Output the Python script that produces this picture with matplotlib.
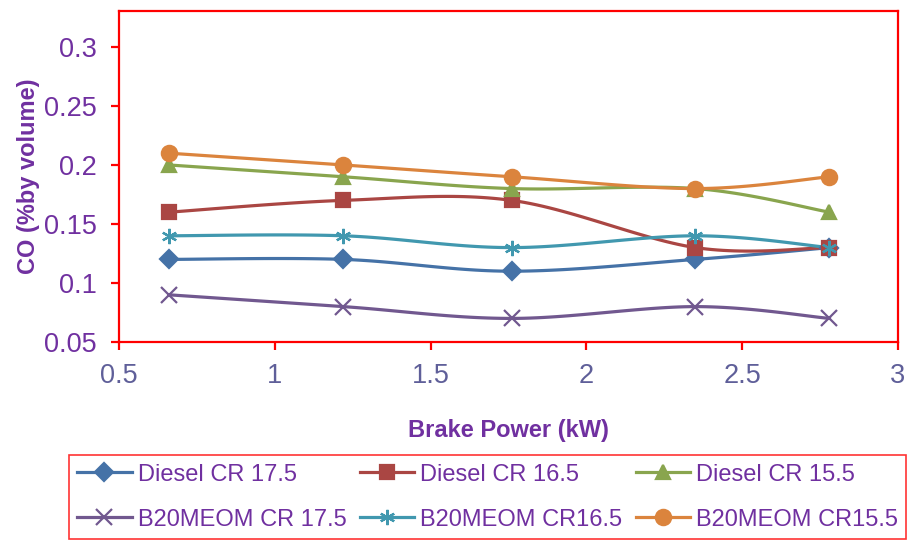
import numpy as np
import matplotlib
matplotlib.use("Agg")
import matplotlib.pyplot as plt

plt.rcParams['font.family'] = ['Liberation Sans', 'DejaVu Sans']

# brake power (kW)
bp = [0.66, 1.22, 1.76, 2.35, 2.78]

diesel_175 = [0.12, 0.12, 0.11, 0.12, 0.13]
diesel_165 = [0.16, 0.17, 0.17, 0.13, 0.13]
diesel_155 = [0.20, 0.19, 0.18, 0.18, 0.16]
b20_175 = [0.09, 0.08, 0.07, 0.08, 0.07]
b20_165 = [0.14, 0.14, 0.13, 0.14, 0.13]
b20_155 = [0.21, 0.20, 0.19, 0.18, 0.19]

labels = ["Diesel CR 17.5", "Diesel CR 16.5", "Diesel CR 15.5",
          "B20MEOM CR 17.5", "B20MEOM CR16.5", "B20MEOM CR15.5"]
series = [diesel_175, diesel_165, diesel_155, b20_175, b20_165, b20_155]
colors = ["#4572A7", "#AA4643", "#89A54E", "#71588F", "#4198AF", "#DB843D"]
markers = ["D", "s", "^", "x", (6, 2, 0), "o"]
msizes = [9, 10, 10, 11, 11, 11]

purple = "#7030A0"


def smooth(x, y, n=30):
    # excel style smoothed line (bezier, catmull-rom control points)
    x = np.asarray(x, float)
    y = np.asarray(y, float)
    px = np.concatenate([[x[0]], x, [x[-1]]])
    py = np.concatenate([[y[0]], y, [y[-1]]])
    t = np.linspace(0, 1, n)
    xs, ys = [], []
    for i in range(1, len(px) - 2):
        p0 = np.array([px[i], py[i]])
        p3 = np.array([px[i + 1], py[i + 1]])
        c1 = p0 + (np.array([px[i + 1], py[i + 1]]) - np.array([px[i - 1], py[i - 1]])) / 6
        c2 = p3 - (np.array([px[i + 2], py[i + 2]]) - np.array([px[i], py[i]])) / 6
        b = ((1 - t) ** 3)[:, None] * p0 + (3 * (1 - t) ** 2 * t)[:, None] * c1 \
            + (3 * (1 - t) * t ** 2)[:, None] * c2 + (t ** 3)[:, None] * p3
        xs.extend(b[:, 0])
        ys.extend(b[:, 1])
    return xs, ys


fig = plt.figure(figsize=(9.09, 5.41), dpi=100)
ax = fig.add_axes([0.1309, 0.3678, 0.857, 0.612])

handles = []
for y, lab, c, m, ms in zip(series, labels, colors, markers, msizes):
    sx, sy = smooth(bp, y)
    ax.plot(sx, sy, color=c, lw=2.3, zorder=2)
    ax.plot(bp, y, linestyle="none", marker=m, color=c, ms=ms, mew=1.6, zorder=3)
    h, = ax.plot([], [], color=c, lw=2.3, marker=m, ms=ms, mew=1.6, label=lab)
    handles.append(h)

ax.set_xlim(0.5, 3)
ax.set_ylim(0.05, 0.3305)
ax.set_xticks([0.5, 1, 1.5, 2, 2.5, 3])
ax.set_xticklabels(["0.5", "1", "1.5", "2", "2.5", "3"])
ax.set_yticks([0.05, 0.1, 0.15, 0.2, 0.25, 0.3])
ax.set_yticklabels(["0.05", "0.1", "0.15", "0.2", "0.25", "0.3"])

for s in ax.spines.values():
    s.set_color("red")
    s.set_linewidth(1.6)
ax.tick_params(axis="both", color="red", width=1.6, length=6, direction="out")
ax.tick_params(axis="y", labelsize=19.5, labelcolor=purple, pad=10)
ax.tick_params(axis="x", labelsize=19.5, labelcolor="#5F5F99", pad=9)

ax.set_xlabel("Brake Power (kW)", fontsize=17, fontweight="bold", color=purple, labelpad=22)
ax.set_ylabel("CO (%by volume)", fontsize=17, fontweight="bold", color=purple, labelpad=3)

# legend filled row by row
order = [0, 3, 1, 4, 2, 5]
leg = fig.legend(handles=[handles[i] for i in order], loc="upper left",
                 bbox_to_anchor=(0.063, 0.180),
                 ncol=3, fontsize=17, frameon=True, fancybox=False,
                 handlelength=2.3, handletextpad=0.25, columnspacing=0.58,
                 borderpad=0.35, labelspacing=0.97)
leg.get_frame().set_edgecolor("red")
leg.get_frame().set_linewidth(1.2)
for t in leg.get_texts():
    t.set_color(purple)

fig.savefig("out.png", dpi=100)
